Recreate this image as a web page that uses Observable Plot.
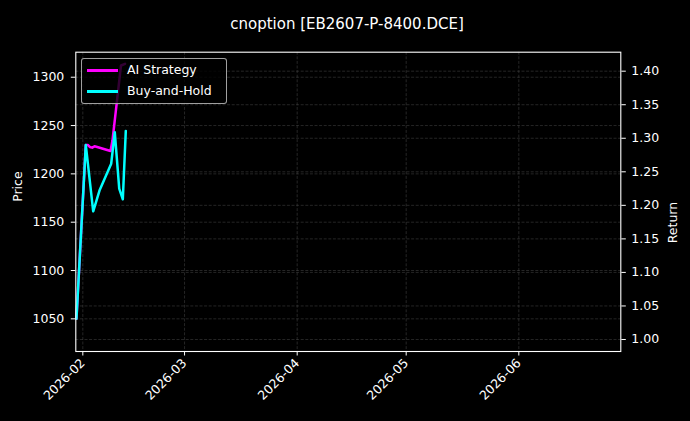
<!DOCTYPE html>
<html>
<head>
<meta charset="utf-8">
<script src="https://cdn.jsdelivr.net/npm/d3@7"></script>
<script src="https://cdn.jsdelivr.net/npm/@observablehq/plot@0.6"></script>
<style>
  html, body { margin: 0; padding: 0; background: #000; }
  #wrap { position: relative; width: 690px; height: 421px; background: #000; font-family: "DejaVu Sans", sans-serif; }
  #legend { position: absolute; left: 81px; top: 58px; width: 144px; height: 44px;
            border: 1px solid rgba(200,200,200,0.8); border-radius: 3px; background: rgba(0,0,0,0.8);
            color: #fff; font-size: 12.5px; }
  .row { position: absolute; left: 0; height: 16px; width: 100%; }
  .sw { position: absolute; left: 5px; top: 7px; width: 31px; height: 2.5px; }
  .lbl { position: absolute; left: 45px; top: 0; line-height: 16px; white-space: nowrap; }
</style>
</head>
<body>
<div id="wrap"></div>
<script>
// ---- data ----
const title = "cnoption [EB2607-P-8400.DCE]";
const seriesNames = ["AI Strategy", "Buy-and-Hold"];
const seriesColors = ["#ff00ff", "#00ffff"];

const aiDates = ["2026-01-30T06:00","2026-02-01T19:40","2026-02-02T08:53","2026-02-02T22:05","2026-02-03T13:55",
                 "2026-02-04T05:17","2026-02-04T23:02","2026-02-06T18:43","2026-02-08T14:53","2026-02-09T04:05",
                 "2026-02-11T12:14","2026-02-12T14:38"];
const aiValues = [1.031, 1.290, 1.290, 1.287, 1.286, 1.288, 1.287, 1.284, 1.281, 1.297, 1.4085, 1.411];

const bhDates = ["2026-01-30T06:00","2026-02-01T19:40","2026-02-03T20:40","2026-02-05T14:10","2026-02-08T19:26",
                 "2026-02-09T19:12","2026-02-11T00:30","2026-02-12T00:15","2026-02-12T19:55"];
const bhValues = [1.031, 1.290, 1.191, 1.222, 1.262, 1.309, 1.225, 1.209, 1.311];

const returnTicks = [1.00, 1.05, 1.10, 1.15, 1.20, 1.25, 1.30, 1.35, 1.40];
const priceTicks = [1050, 1100, 1150, 1200, 1250, 1300];
const monthTicks = ["2026-02-01", "2026-03-01", "2026-04-01", "2026-05-01", "2026-06-01"];
const xDomain = ["2026-01-30T01:40", "2026-06-29T01:40"];
const returnDomain = [0.9821, 1.4283];
const priceDomain = [1016.2, 1325.9];

// ---- build ----
const utc = s => new Date(s.length <= 10 ? s + "T00:00Z" : s + "Z");
const ai = aiDates.map((d, i) => ({date: utc(d), r: aiValues[i]}));
const bh = bhDates.map((d, i) => ({date: utc(d), r: bhValues[i]}));
// price axis shares the frame with the return axis
const toR = p => returnDomain[0] + (p - priceDomain[0]) / (priceDomain[1] - priceDomain[0]) * (returnDomain[1] - returnDomain[0]);
const fromR = r => priceDomain[0] + (r - returnDomain[0]) / (returnDomain[1] - returnDomain[0]) * (priceDomain[1] - priceDomain[0]);

const gridStyle = {stroke: "#5a5a5a", strokeOpacity: 0.7, strokeWidth: 0.6, strokeDasharray: "3,1.6"};

const chart = Plot.plot({
  width: 690, height: 421,
  marginLeft: 75.3, marginRight: 69.7, marginTop: 51.7, marginBottom: 70,
  style: {background: "#000", color: "#fff", fontFamily: "DejaVu Sans", fontSize: "12.5px", overflow: "visible"},
  x: {type: "utc", domain: xDomain.map(utc)},
  y: {domain: returnDomain},
  marks: [
    Plot.gridX(monthTicks.map(utc), gridStyle),
    Plot.gridY(returnTicks, gridStyle),
    Plot.gridY(priceTicks.map(toR), gridStyle),
    Plot.line(ai, {x: "date", y: "r", stroke: seriesColors[0], strokeWidth: 2.5}),
    Plot.line(bh, {x: "date", y: "r", stroke: seriesColors[1], strokeWidth: 2.5}),
    Plot.frame({stroke: "#fff", strokeWidth: 1.1}),
    Plot.axisY(priceTicks.map(toR), {anchor: "left", tickFormat: r => String(Math.round(fromR(r))),
      tickSize: 4.5, tickPadding: 7, label: null, stroke: "#fff", fontSize: 12.5}),
    Plot.axisY(returnTicks, {anchor: "right", tickFormat: d => d.toFixed(2),
      tickSize: 4.5, tickPadding: 6, label: null, stroke: "#fff", fontSize: 12.5}),
    Plot.axisX(monthTicks.map(utc), {anchor: "bottom", tickFormat: d3.utcFormat("%Y-%m"), tickRotate: -45,
      tickSize: 4.5, tickPadding: 5, label: null, stroke: "#fff", fontSize: 12.5}),
    Plot.text(["Price"], {frameAnchor: "left", dx: -58, rotate: -90, fill: "#fff", fontSize: 12.5}),
    Plot.text(["Return"], {frameAnchor: "right", dx: 52, rotate: -90, fill: "#fff", fontSize: 12.5}),
    Plot.text([title], {frameAnchor: "top", dx: -1.3, dy: -33.7, fill: "#fff", fontSize: 15})
  ]
});
const wrap = document.getElementById("wrap");
wrap.appendChild(chart);

// legend
const lg = document.createElement("div");
lg.id = "legend";
seriesNames.forEach((name, i) => {
  const row = document.createElement("div");
  row.className = "row";
  row.style.top = (3 + i * 21) + "px";
  const sw = document.createElement("div");
  sw.className = "sw";
  sw.style.background = seriesColors[i];
  const lbl = document.createElement("div");
  lbl.className = "lbl";
  lbl.textContent = name;
  row.appendChild(sw); row.appendChild(lbl);
  lg.appendChild(row);
});
wrap.appendChild(lg);
</script>
</body>
</html>
